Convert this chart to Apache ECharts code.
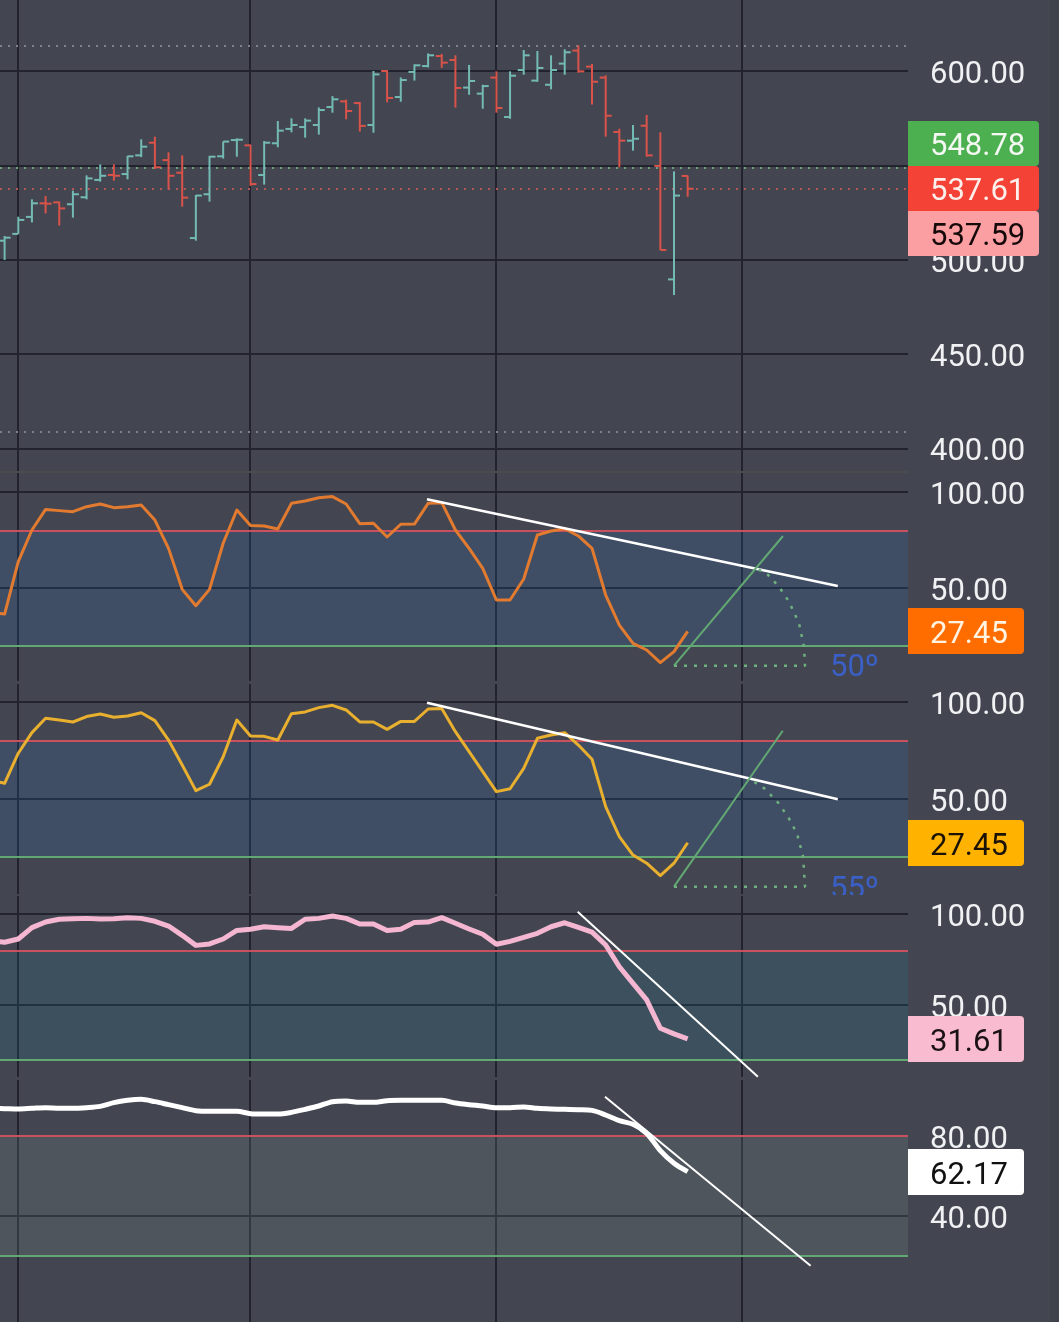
<!DOCTYPE html>
<html lang="en">
<head>
    <meta charset="UTF-8">
    <title>Price and oscillators</title>
    <style>
        html, body { margin: 0; padding: 0; background: #434651; }
        #chart { width: 1059px; height: 1322px; }
    </style>
</head>
<body>
    <div id="chart"></div>
    <script src="https://cdn.jsdelivr.net/npm/echarts@6/dist/echarts.min.js"></script>
    <script>
        // bars, one row per index from 0
        var opens = [510.1,513.7,522.7,529.9,530.4,529.4,533.1,542.3,544.9,545.4,555.3,562.0,552.8,546.1,511.5,534.7,554.8,563.4,560.6,544.9,561.7,569.3,570.3,571.4,580.9,583.9,583.0,571.4,600.0,586.2,599.5,602.6,607.9,605.8,591.2,588.0,596.5,575.6,600.5,594.9,592.7,603.9,610.8,602.3,596.5,567.7,563.1,571.0,549.7,489.6,544.4];
        var highs = [512.6,522.8,532.0,533.8,530.8,536.6,544.7,550.5,550.5,555.0,563.8,565.2,556.9,555.3,534.3,555.0,562.6,564.3,561.0,562.9,573.5,574.9,574.9,580.7,586.7,584.8,583.6,600.0,600.5,596.6,603.5,609.3,609.0,608.3,603.2,592.7,599.8,599.8,611.1,610.6,608.3,611.5,613.6,603.7,597.7,569.4,571.4,576.7,567.5,546.8,544.6];
        var lows = [499.9,513.7,519.8,524.6,518.1,522.3,532.0,541.4,541.9,542.6,554.4,548.1,537.3,528.1,510.1,530.8,553.6,554.6,539.1,539.8,559.6,567.5,564.7,566.3,577.9,574.4,567.9,567.3,583.4,583.7,594.9,601.9,601.7,580.6,587.4,580.0,577.9,574.7,598.0,594.3,590.3,598.0,599.1,582.2,565.2,549.0,557.8,554.6,505.2,481.3,533.4];
        var closes = [511.7,521.1,529.9,529.7,527.2,534.7,543.1,544.5,544.5,554.8,559.9,549.0,544.5,532.9,534.0,554.6,562.6,563.6,540.1,562.0,568.4,571.4,573.7,579.3,585.0,578.8,570.9,598.2,585.7,595.2,603.0,608.3,604.4,591.0,594.7,592.0,580.4,597.5,608.3,601.6,600.5,609.9,599.8,594.3,576.3,563.1,564.1,555.3,505.2,534.0,537.61];

        // oscillators, first value sits one bar left of the first price bar
        var orangeLine = [37.15,36.45,63.7,80.2,90.95,90.3,89.75,92.35,93.75,91.85,92.35,93.25,85.4,70.65,49.3,40.8,49.3,73.3,90.6,82.5,82.3,80.7,94.1,95.3,97.05,97.6,93.75,83.5,83.7,76.55,83.2,83.3,94.1,94.45,80.2,70.65,60.25,43.75,43.75,54.7,77.6,79.7,80.9,77.1,70.65,46.35,30.7,21.15,17.7,11.1,16.85,27.45];
        var amberLine = [59.8,58.1,73.6,84.2,91.6,90.7,89.7,92.5,93.8,92.1,92.8,94.5,90.4,80.4,67.5,54.3,57.6,71.8,90.7,82.5,82.3,80.4,94.0,94.9,97.1,98.3,95.9,89.7,89.7,85.9,90.0,90.0,96.4,96.6,84.7,74.4,64.1,53.8,55.3,65.8,81.3,83.0,84.2,77.8,70.5,46.1,30.6,21.1,16.9,10.5,16.9,27.45];
        var pinkLine = [85.4,84.5,86.3,92.5,95.6,97.1,97.4,97.6,97.3,97.4,98.0,97.6,96.0,93.4,88.3,82.8,83.6,86.3,91.0,91.6,93.0,92.5,92.1,97.1,97.6,98.9,97.6,94.5,94.5,91.0,91.6,95.4,95.6,98.0,94.9,91.8,88.9,83.4,85.0,87.2,89.4,93.0,95.2,92.7,90.1,83.0,71.1,62.0,52.9,37.4,34.3,31.61];
        var whiteLine = [93.83,93.67,93.5,93.83,94.17,93.83,93.83,94.17,94.83,96.67,97.83,98.33,97.17,95.67,94.17,92.67,92.33,92.33,92.33,91.17,91.0,91.0,91.83,93.33,95.0,97.17,97.5,96.83,96.83,97.67,97.83,97.83,97.83,97.83,96.5,95.67,95.0,94.17,94.17,94.5,93.83,93.5,93.33,93.17,92.83,90.5,87.67,85.83,81.33,72.67,66.33,62.17];

        // axis ticks
        var priceTicks = [600, 550, 500, 450, 400];
        var rsiTicks = [100, 50];
        var lastTicks = [80, 40];
        var timeTicks = [0.95, 17.95, 35.95, 53.95];

        // price levels: highest, lowest, green, red
        var priceHigh = 613.2;
        var priceLow = 408.8;
        var priceGreen = 548.78;
        var priceRed = 537.61;

        // drawn trend lines, [bar index, value]
        var trendA = [[30.92, 96.2], [60.99, 51.04]];
        var slopeA = [[49, 9.53], [56.98, 77.08]];
        var arcA = [[49, 9.53], [58.59, 9.53], [58.52, 19.43], [58.15, 31.6], [57.42, 42.9], [56.66, 50.9], [55.77, 57.66], [55, 60.26]];
        var trendB = [[30.92, 99.64], [60.99, 49.85]];
        var slopeB = [[49, 4.8], [56.96, 85.2]];
        var arcB = [[49, 4.8], [58.59, 4.8], [58.45, 20.26], [58, 32.3], [57.41, 40.05], [56.66, 47.8], [55.61, 55.5], [54.57, 60.15]];
        var trendC = [[41.95, 101.26], [55.14, 10.85]];
        var trendD = [[43.95, 99.65], [59, 15.15]];

        var tagTexts = ['548.78', '537.61', '537.59', '27.45', '27.45', '31.61', '62.17'];
        var angleTexts = ['50º', '55º'];

        var bgColor = '#434651';
        var gridColor = '#22232e';
        var upColor = '#74bab4';
        var downColor = '#d9534a';
        var redLine = '#c9505f';
        var greenLine = '#62a873';
        var dotGreen = '#6fb07f';
        var labelFont = 'Roboto';
        var labelSize = 31;

        var myChart = echarts.init(document.getElementById('chart'), null, { renderer: 'canvas' });

        // grid pixel rows: top, bottom
        var panes = [
            { top: 0, bottom: 471, min: 388.1, max: 637.6, ticks: priceTicks },
            { top: 473, bottom: 681, min: 1.56, max: 109.9, ticks: rsiTicks },
            { top: 684, bottom: 894, min: 1.03, max: 109.28, ticks: rsiTicks },
            { top: 896, bottom: 1077, min: 10.68, max: 109.86, ticks: rsiTicks },
            { top: 1080, bottom: 1322, min: -13, max: 108, ticks: lastTicks }
        ];

        var grids = [], xAxes = [], yAxes = [];
        panes.forEach(function (p, n) {
            grids.push({ left: 0, width: 908, top: p.top, height: p.bottom - p.top });
            xAxes.push({
                type: 'value', gridIndex: n, min: -0.337, max: 66.13,
                axisLine: { show: false },
                axisTick: { show: false, customValues: timeTicks },
                axisLabel: { show: false, customValues: timeTicks },
                splitLine: { show: true, lineStyle: { color: gridColor, width: 2 } }
            });
            yAxes.push({
                type: 'value', gridIndex: n, position: 'right', min: p.min, max: p.max,
                axisLine: { show: false },
                axisTick: { show: false, customValues: p.ticks },
                axisLabel: {
                    show: true, customValues: p.ticks, margin: 22, color: '#f0f1f3',
                    fontFamily: labelFont, fontSize: labelSize,
                    // nudges the digits down onto the grid line
                    verticalAlign: 'top', lineHeight: 8,
                    showMinLabel: true, showMaxLabel: true,
                    formatter: function (v) { return v.toFixed(2); }
                },
                splitLine: { show: true, lineStyle: { color: gridColor, width: 2 } }
            });
        });

        function lineSeries(n, data, color, width, extra) {
            return Object.assign({
                type: 'line', xAxisIndex: n, yAxisIndex: n, data: data,
                showSymbol: false, silent: true, animation: false, z: 5,
                lineStyle: { color: color, width: width, join: 'round' }
            }, extra || {});
        }

        // the oscillator line carries its band and the 80 / 20 levels
        function oscillator(n, values, color, width, bandColor, smooth) {
            var pts = values.map(function (v, i) { return [i - 1, v]; });
            return lineSeries(n, pts, color, width, {
                smooth: smooth,
                z: 6,
                markArea: {
                    silent: true,
                    itemStyle: { color: bandColor },
                    data: [[{ yAxis: 80 }, { yAxis: 20 }]]
                },
                markLine: {
                    silent: true, symbol: 'none', animation: false,
                    label: { show: false },
                    data: [
                        { yAxis: 80, lineStyle: { color: redLine, width: 2, type: 'solid' } },
                        { yAxis: 20, lineStyle: { color: greenLine, width: 2, type: 'solid' } }
                    ]
                }
            });
        }

        var barData = opens.map(function (o, i) { return [i, o, highs[i], lows[i], closes[i]]; });

        var series = [
            {
                type: 'custom', xAxisIndex: 0, yAxisIndex: 0, data: barData, clip: true,
                silent: true, animation: false, z: 5,
                encode: { x: 0, y: [1, 2, 3, 4] },
                renderItem: function (params, api) {
                    var i = api.value(0);
                    var o = api.coord([i, api.value(1)]);
                    var h = api.coord([i, api.value(2)]);
                    var l = api.coord([i, api.value(3)]);
                    var c = api.coord([i, api.value(4)]);
                    var style = {
                        stroke: api.value(4) < api.value(1) ? downColor : upColor,
                        lineWidth: 2, fill: null
                    };
                    return {
                        type: 'group',
                        children: [
                            { type: 'line', shape: { x1: h[0], y1: h[1], x2: l[0], y2: l[1] }, style: style },
                            { type: 'line', shape: { x1: o[0] - 6, y1: o[1], x2: o[0], y2: o[1] }, style: style },
                            { type: 'line', shape: { x1: c[0], y1: c[1], x2: c[0] + 6, y2: c[1] }, style: style }
                        ]
                    };
                }
            },
            // price level lines, hung on an empty series
            lineSeries(0, [], '#000', 1, {
                markLine: {
                    silent: true, symbol: 'none', animation: false,
                    label: { show: false },
                    data: [
                        { yAxis: priceHigh, lineStyle: { color: '#7f828c', width: 2, type: [2, 6] } },
                        { yAxis: priceLow, lineStyle: { color: '#7f828c', width: 2, type: [2, 6] } },
                        { yAxis: priceGreen, lineStyle: { color: '#6f9e7c', width: 2, type: [2, 6] } },
                        { yAxis: priceRed, lineStyle: { color: '#b5555c', width: 2, type: [2, 6] } }
                    ]
                }
            }),
            oscillator(1, orangeLine, '#e27b2f', 3, 'rgba(40,130,214,0.15)', false),
            oscillator(2, amberLine, '#e9b02f', 3, 'rgba(40,130,214,0.15)', false),
            oscillator(3, pinkLine, '#f4b6d0', 5, 'rgba(27,143,168,0.15)', false),
            oscillator(4, whiteLine, '#ffffff', 5, 'rgba(147,177,168,0.15)', 0.3),
            lineSeries(1, trendA, '#ffffff', 2.5, { z: 7 }),
            lineSeries(1, slopeA, greenLine, 2, { z: 7 }),
            lineSeries(1, arcA, dotGreen, 2.5, { z: 7, lineStyle: { color: dotGreen, width: 2.5, type: [3, 7] } }),
            lineSeries(2, trendB, '#ffffff', 2.5, { z: 7 }),
            lineSeries(2, slopeB, greenLine, 2, { z: 7 }),
            lineSeries(2, arcB, dotGreen, 2.5, { z: 7, lineStyle: { color: dotGreen, width: 2.5, type: [3, 7] } }),
            lineSeries(3, trendC, '#ffffff', 2, { z: 7 }),
            lineSeries(4, trendD, '#ffffff', 2, { z: 7 })
        ];

        // value tags on the right scale
        function tag(text, top, bottom, right, fill, color) {
            return {
                type: 'group', z: 50,
                children: [
                    {
                        type: 'rect', z: 50,
                        shape: { x: 908, y: top, width: right - 908, height: bottom - top, r: [0, 4, 4, 0] },
                        style: { fill: fill }
                    },
                    {
                        type: 'text', z: 51, x: 930, y: (top + bottom) / 2 + 4,
                        style: {
                            text: text, fill: color, font: labelSize + 'px ' + labelFont,
                            textAlign: 'left', textVerticalAlign: 'middle'
                        }
                    }
                ]
            };
        }

        function angleText(text, baseline) {
            return {
                type: 'text', z: 40, x: 830, y: baseline,
                style: {
                    text: text, fill: '#3a5fc6', font: '31px ' + labelFont,
                    textAlign: 'left', textVerticalAlign: 'bottom'
                }
            };
        }

        var option = {
            backgroundColor: bgColor,
            animation: false,
            grid: grids,
            xAxis: xAxes,
            yAxis: yAxes,
            series: series,
            graphic: [
                { type: 'rect', z: 1, silent: true, shape: { x: 1050, y: 0, width: 9, height: 1322 }, style: { fill: '#3f414b' } },
                { type: 'rect', z: 1, silent: true, shape: { x: 0, y: 471, width: 908, height: 2 }, style: { fill: '#4c4b4c' } },
                angleText(angleTexts[0], 684),
                angleText(angleTexts[1], 906),
                // cuts the second angle label at the pane edge
                { type: 'rect', z: 41, silent: true, shape: { x: 825, y: 895, width: 60, height: 12 }, style: { fill: bgColor } },
                tag(tagTexts[0], 121, 166, 1039, '#4caf50', '#f4f8f2'),
                tag(tagTexts[1], 166, 211, 1039, '#f44336', '#fdf0ec'),
                tag(tagTexts[2], 211, 256, 1039, '#fb9fa3', '#15090a'),
                tag(tagTexts[3], 608, 654, 1024, '#ff6d00', '#fff3e2'),
                tag(tagTexts[4], 820, 866, 1024, '#ffb300', '#1a1204'),
                tag(tagTexts[5], 1016, 1062, 1024, '#f8bbd0', '#1a1114'),
                tag(tagTexts[6], 1149, 1195, 1024, '#ffffff', '#111111')
            ]
        };

        myChart.setOption(option);
    </script>
</body>
</html>
